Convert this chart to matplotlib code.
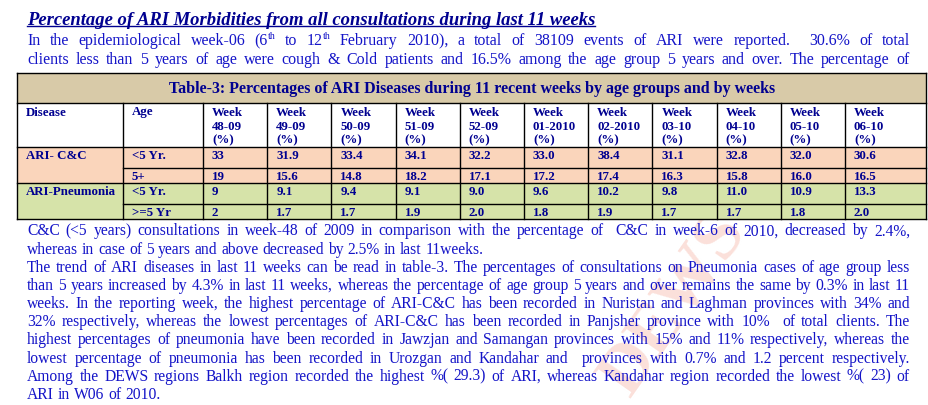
import matplotlib
matplotlib.use('Agg')
import matplotlib.pyplot as plt
from matplotlib.patches import Rectangle

SERIF = 'Liberation Serif'
BODY = '#1414c8'
DARK = '#000090'

title = 'Percentage of ARI Morbidities from all consultations during last 11 weeks'
intro = [
    'In the epidemiological week-06 (6^th to 12^th February 2010), a total of 38109 events of ARI were reported.  30.6% of total',
    'clients less than 5 years of age were cough & Cold patients and 16.5% among the age group 5 years and over. The percentage of',
]
table_title = 'Table-3: Percentages of ARI Diseases during 11 recent weeks by age groups and by weeks'
weeks = ['48-09', '49-09', '50-09', '51-09', '52-09', '01-2010', '02-2010', '03-10', '04-10', '05-10', '06-10']
diseases = ['ARI- C&C', 'ARI-Pneumonia']
ages = ['<5 Yr.', '5+', '<5 Yr.', '>=5 Yr']
cc_under5 = ['33', '31.9', '33.4', '34.1', '32.2', '33.0', '38.4', '31.1', '32.8', '32.0', '30.6']
cc_over5 = ['19', '15.6', '14.8', '18.2', '17.1', '17.2', '17.4', '16.3', '15.8', '16.0', '16.5']
pn_under5 = ['9', '9.1', '9.4', '9.1', '9.0', '9.6', '10.2', '9.8', '11.0', '10.9', '13.3']
pn_over5 = ['2', '1.7', '1.7', '1.9', '2.0', '1.8', '1.9', '1.7', '1.7', '1.8', '2.0']
rows = [cc_under5, cc_over5, pn_under5, pn_over5]
outro = [
    'C&C (<5 years) consultations in week-48 of 2009 in comparison with the percentage of  C&C in week-6 of 2010, decreased by 2.4%,',
    'whereas in case of 5 years and above decreased by 2.5% in last 11weeks.',
    'The trend of ARI diseases in last 11 weeks can be read in table-3. The percentages of consultations on Pneumonia cases of age group less',
    'than 5 years increased by 4.3% in last 11 weeks, whereas the percentage of age group 5 years and over remains the same by 0.3% in last 11',
    'weeks. In the reporting week, the highest percentage of ARI-C&C has been recorded in Nuristan and Laghman provinces with 34% and',
    '32% respectively, whereas the lowest percentages of ARI-C&C has been recorded in Panjsher province with 10%  of total clients. The',
    'highest percentages of pneumonia have been recorded in Jawzjan and Samangan provinces with 15% and 11% respectively, whereas the',
    'lowest percentage of pneumonia has been recorded in Urozgan and Kandahar and  provinces with 0.7% and 1.2 percent respectively.',
    'Among the DEWS regions Balkh region recorded the highest %( 29.3) of ARI, whereas Kandahar region recorded the lowest %( 23) of',
    'ARI in W06 of 2010.',
]
outro_last = [1, 9]  # paragraph ends, not justified

fig = plt.figure(figsize=(9.29, 4.06), dpi=100)
ax = fig.add_axes([0, 0, 1, 1])
ax.set_xlim(0, 929)
ax.set_ylim(406, 0)
ax.axis('off')
r = fig.canvas.get_renderer()


def width(t):
    return t.get_window_extent(renderer=r).width


def put_line(y, line, x0, x1, size, color, justify=True):
    items = []
    for w in line.split(' '):
        parts = w.split('^')
        ts = [ax.text(0, y, parts[0], fontsize=size, color=color, family=SERIF, va='baseline', zorder=3)]
        if len(parts) > 1:
            ts.append(ax.text(0, y - size * 0.5, parts[1], fontsize=size * 0.62,
                              color=color, family=SERIF, va='baseline', zorder=3))
        items.append((ts, [width(t) if t.get_text() else 0 for t in ts]))
    total = sum(sum(ws) for _, ws in items)
    gap = (x1 - x0 - total) / (len(items) - 1) if justify else size * 0.25 * 100 / 72
    x = x0
    for ts, ws in items:
        for t, w in zip(ts, ws):
            t.set_x(x)
            x += w
        x += gap


# faint watermark behind the lower text
ax.text(675, 305, 'DEWS', fontsize=50, color='#fbe0da', family=SERIF, weight='bold',
        rotation=55, ha='center', va='center', zorder=0)

# heading
t = ax.text(27, 25, title, fontsize=13.4, color=DARK, family=SERIF, weight='bold',
            style='italic', va='baseline')
tw = width(t)
ax.plot([27, 27 + tw], [27, 27], color=DARK, lw=1)

for i, line in enumerate(intro):
    put_line(45 + 19.5 * i, line, 27, 910, 11.5, BODY)

# table
xs = [17, 123] + [203 + 64.2 * i for i in range(11)] + [926]
ys = [74, 104, 148, 169, 184, 205, 220]
ax.add_patch(Rectangle((xs[0], ys[0]), xs[-1] - xs[0], ys[1] - ys[0], color='#d8caa8', lw=0, zorder=1))
ax.add_patch(Rectangle((xs[0], ys[2]), xs[-1] - xs[0], ys[4] - ys[2], color='#fad5bb', lw=0, zorder=1))
ax.add_patch(Rectangle((xs[0], ys[4]), xs[-1] - xs[0], ys[6] - ys[4], color='#d6e3a9', lw=0, zorder=1))

lc = 'black'
for y in [ys[0], ys[1], ys[2], ys[4], ys[6]]:
    ax.plot([xs[0], xs[-1]], [y, y], color=lc, lw=1, zorder=2)
for y in [ys[3], ys[5]]:
    ax.plot([xs[1], xs[-1]], [y, y], color=lc, lw=1, zorder=2)
for x in [xs[0], xs[-1]]:
    ax.plot([x, x], [ys[0], ys[-1]], color=lc, lw=1, zorder=2)
for x in xs[1:-1]:
    ax.plot([x, x], [ys[1], ys[-1]], color=lc, lw=1, zorder=2)

ax.text(472, 89, table_title, fontsize=11.5, color=DARK, family=SERIF, weight='bold',
        ha='center', va='center', zorder=3)

cell = dict(fontsize=9.3, color=DARK, family=SERIF, weight='bold', va='top', zorder=3)
pad = 9
ax.text(xs[0] + pad, ys[1] + 2.5, 'Disease', **cell)
ax.text(xs[1] + pad, ys[1] + 2.5, 'Age', **cell)
for j, wk in enumerate(weeks):
    x = xs[j + 2] + pad
    ax.text(x, ys[1] + 2.5, 'Week', **cell)
    ax.text(x, ys[1] + 16.5, wk, **cell)
    ax.text(x, ys[1] + 30.5, '(%)', **cell)

ax.text(xs[0] + pad, ys[2] + 2, diseases[0], **cell)
ax.text(xs[0] + pad, ys[4] + 2, diseases[1], **cell)
for i, vals in enumerate(rows):
    ax.text(xs[1] + pad, ys[i + 2] + 2, ages[i], **cell)
    for j, v in enumerate(vals):
        ax.text(xs[j + 2] + pad, ys[i + 2] + 2, v, **cell)

for i, line in enumerate(outro):
    put_line(235.5 + 18.15 * i, line, 27, 910, 11.25, BODY, justify=i not in outro_last)

fig.savefig('out.png', dpi=100)
